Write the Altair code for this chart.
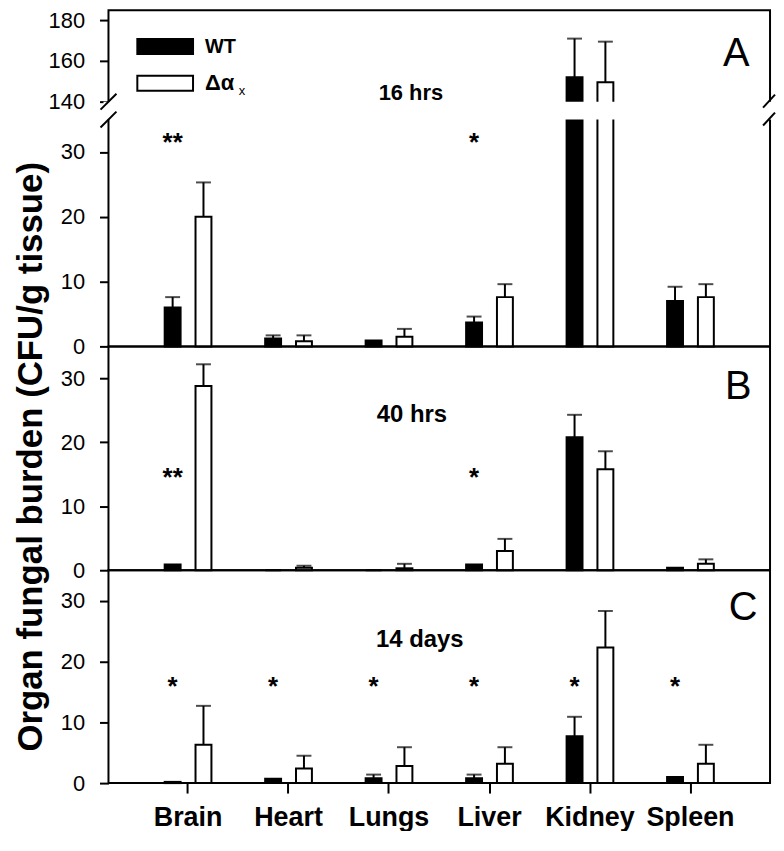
import altair as alt
import pandas as pd

organs = ["Brain", "Heart", "Lungs", "Liver", "Kidney", "Spleen"]
groups = ["WT", "Δαx"]

# Panel A: 16 hrs (value = bar top, top = error-bar top)
wt_16 = [6.0, 1.2, 0.9, 3.7, 152.0, 7.0]
wt_16_top = [7.6, 1.7, 0.9, 4.6, 171.0, 9.2]
dx_16 = [20.0, 0.8, 1.5, 7.6, 149.5, 7.6]
dx_16_top = [25.3, 1.7, 2.7, 9.6, 169.5, 9.6]

# Panel B: 40 hrs
wt_40 = [0.9, 0.0, 0.0, 0.9, 20.8, 0.4]
wt_40_top = [0.9, 0.0, 0.0, 0.9, 24.3, 0.4]
dx_40 = [28.8, 0.4, 0.3, 3.0, 15.8, 1.0]
dx_40_top = [32.2, 0.7, 1.0, 4.9, 18.6, 1.7]

# Panel C: 14 days
wt_14 = [0.2, 0.7, 0.8, 0.8, 7.7, 1.0]
wt_14_top = [0.2, 0.7, 1.4, 1.4, 10.9, 1.0]
dx_14 = [6.3, 2.4, 2.8, 3.2, 22.3, 3.2]
dx_14_top = [12.7, 4.5, 5.9, 5.9, 28.3, 6.3]

sig_16 = ["**", "", "", "*", "", ""]
sig_40 = ["**", "", "", "*", "", ""]
sig_14 = ["*", "*", "*", "*", "*", "*"]
sig_y_16 = 32.5
sig_y_40 = 15.5
sig_y_14 = 17.0

ticks_a = [0, 10, 20, 30, 140, 160, 180]
ticks_bc = [0, 10, 20, 30]

FONT = "Liberation Sans, Arial, sans-serif"
W = 665
HA, HB, HC = 338, 225, 214


def build_df(wt, wt_top, dx, dx_top):
    rows = []
    for i, o in enumerate(organs):
        rows.append({"organ": o, "grp": groups[0], "value": wt[i], "top": wt_top[i]})
        rows.append({"organ": o, "grp": groups[1], "value": dx[i], "top": dx_top[i]})
    return pd.DataFrame(rows)


def sig_df(sig, y):
    d = pd.DataFrame({"organ": organs, "grp": groups[0], "sig": sig, "y": [y] * len(organs)})
    return d[d["sig"] != ""]


one = pd.DataFrame({"k": [0]})

x_scale = alt.Scale(domain=organs, paddingInner=0, paddingOuter=0.292)
off_scale = alt.Scale(domain=groups, paddingInner=0.484, paddingOuter=0.871)
fill_scale = alt.Scale(domain=groups, range=["black", "white"])


def panel(df, sdf, height, yscale, xaxis, yaxis, extra):
    X = alt.X("organ:N", scale=x_scale, axis=xaxis, sort=organs)
    XO = alt.XOffset("grp:N", scale=off_scale, sort=groups)
    bars = alt.Chart(df).mark_bar(stroke="black", strokeWidth=2).encode(
        x=X, xOffset=XO,
        y=alt.Y("value:Q", scale=yscale, axis=yaxis),
        fill=alt.Fill("grp:N", scale=fill_scale, legend=None),
    )
    edf = df[df["top"] > df["value"]]
    rules = alt.Chart(edf).mark_rule(color="black", strokeWidth=2).encode(
        x=X, xOffset=XO, y=alt.Y("value:Q", scale=yscale, axis=yaxis), y2="top:Q"
    )
    caps = alt.Chart(edf).mark_tick(color="black", thickness=2, size=15, orient="horizontal").encode(
        x=X, xOffset=XO, y=alt.Y("top:Q", scale=yscale, axis=yaxis)
    )
    sigs = alt.Chart(sdf).mark_text(
        font=FONT, fontSize=26, fontWeight="bold", baseline="alphabetic", dy=15, color="black"
    ).encode(x=X, xOffset=XO, y=alt.Y("y:Q", scale=yscale, axis=yaxis), text="sig:N")
    return alt.layer(bars, rules, caps, sigs, *extra).properties(width=W, height=height)


def label(txt, x, y, size, weight="normal", align="center", baseline="middle"):
    return alt.Chart(one).mark_text(
        text=txt, font=FONT, fontSize=size, fontWeight=weight, align=align, baseline=baseline, color="black"
    ).encode(x=alt.value(x), y=y)


def slash(x1, x2, y1, y2):
    return alt.Chart(one).mark_rule(color="black", strokeWidth=2).encode(
        x=alt.value(x1), x2=alt.value(x2), y=alt.value(y1), y2=alt.value(y2)
    )


# ---- Panel A with broken axis ----
scale_a = alt.Scale(domain=[0, 35, 140, 185], range=[HA, 110, 92, 0], nice=False, zero=False)
gap = alt.Chart(one).mark_rect(fill="white").encode(
    x=alt.value(-5), x2=alt.value(W + 5), y=alt.datum(35.2), y2=alt.datum(139.8)
)
legend_wt = alt.Chart(one).mark_rect(fill="black").encode(
    x=alt.value(28), x2=alt.value(86), y=alt.value(28), y2=alt.value(45)
)
legend_dx = alt.Chart(one).mark_rect(fill="white", stroke="black", strokeWidth=2).encode(
    x=alt.value(29), x2=alt.value(85), y=alt.value(66), y2=alt.value(81)
)
extra_a = [
    gap,
    slash(-8, 8, 100, 84), slash(-8, 8, 118, 102),
    slash(W - 7, W + 5, 98, 85), slash(W - 7, W + 5, 116, 103),
    legend_wt, legend_dx,
    label("WT", 97, alt.value(37), 20, "bold", "left"),
    label("Δα", 97, alt.value(73), 22, "bold", "left"),
    label("x", 131, alt.value(81), 13, "normal", "left"),
    label("16 hrs", 304, alt.datum(144.3), 22, "bold"),
    label("A", 631, alt.value(44), 40),
]
A = panel(build_df(wt_16, wt_16_top, dx_16, dx_16_top), sig_df(sig_16, sig_y_16), HA,
          scale_a, None, alt.Axis(values=ticks_a, title=None, format="d"), extra_a)

# ---- Panel B ----
scale_b = alt.Scale(domain=[0, 35], nice=False, zero=False)
axis_b = alt.Axis(
    values=ticks_bc, format="d", title="Organ fungal burden (CFU/g tissue)",
    titleFont=FONT, titleFontSize=35, titleFontWeight="bold", titleAngle=270,
    titleX=-67, titleY=HB / 2 - 2, titleBaseline="alphabetic", titleAlign="center", titleColor="black",
)
extra_b = [
    label("40 hrs", 305, alt.datum(24.3), 24, "bold"),
    label("B", 633, alt.value(41), 40),
]
B = panel(build_df(wt_40, wt_40_top, dx_40, dx_40_top), sig_df(sig_40, sig_y_40), HB,
          scale_b, None, axis_b, extra_b)

# ---- Panel C ----
scale_c = alt.Scale(domain=[0, 35], nice=False, zero=False)
xaxis_c = alt.Axis(
    title=None, labelAngle=0, labelFont=FONT, labelFontSize=27, labelFontWeight="bold",
    tickSize=10, labelPadding=12, domain=False,
)
extra_c = [
    label("14 days", 313, alt.datum(23.6), 24, "bold"),
    label("C", 638, alt.value(38), 40),
]
C = panel(build_df(wt_14, wt_14_top, dx_14, dx_14_top), sig_df(sig_14, sig_y_14), HC,
          scale_c, xaxis_c, alt.Axis(values=ticks_bc, title=None, format="d"), extra_c)

PAD = {"left": 4, "top": -2, "right": -1, "bottom": -3}
chart = (
    alt.vconcat(A, B, C, spacing=0, bounds="flush")
    .properties(padding=PAD)
    .configure(padding=PAD)
    .configure_view(stroke="black", strokeWidth=2)
    .configure_axis(
        labelFont=FONT, labelFontSize=22, labelColor="black", tickColor="black",
        tickWidth=2, tickSize=9, labelPadding=15, domain=False, grid=False,
    )
)

chart.save("out.html", embed_options={"renderer": "svg", "actions": False})
